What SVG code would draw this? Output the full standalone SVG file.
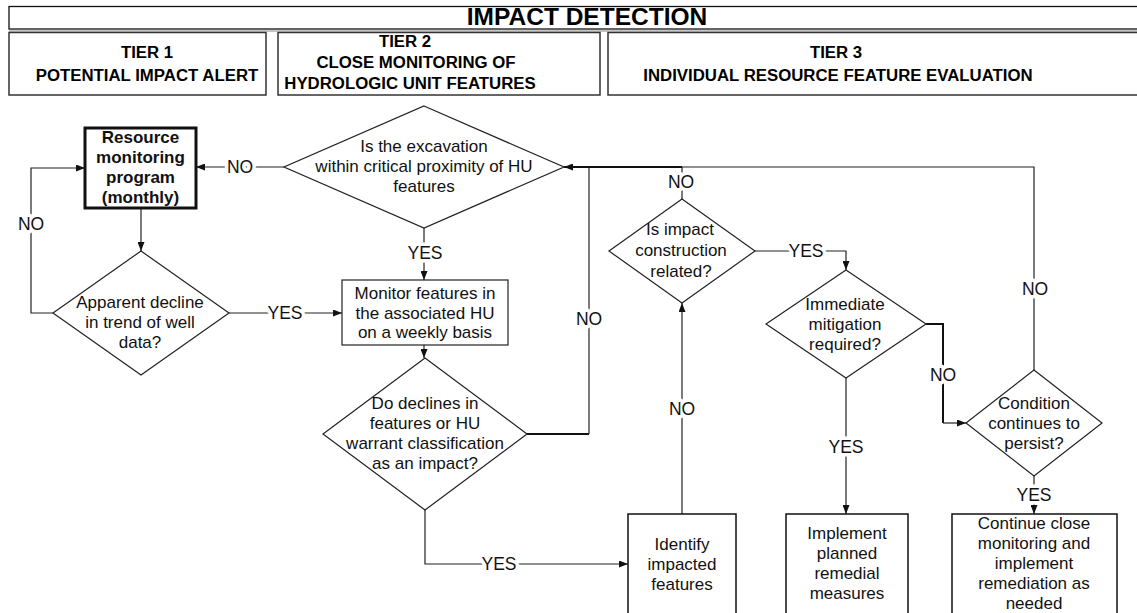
<svg xmlns="http://www.w3.org/2000/svg" width="1137" height="613" viewBox="0 0 1137 613">
<style>
.hdr{font-family:"Liberation Sans",Arial,sans-serif;font-weight:bold;fill:#000;text-anchor:middle}
.t{font-family:"Liberation Sans",Arial,sans-serif;font-size:17px;fill:#111;text-anchor:middle}
.b{font-weight:bold}
.lbl{font-family:"Liberation Sans",Arial,sans-serif;font-size:17.5px;fill:#111;text-anchor:middle;paint-order:stroke;stroke:#fff;stroke-width:7px;stroke-linejoin:round}
.shape{fill:#fff;stroke:#222;stroke-width:1.2}
.tier{fill:#fff;stroke:#333;stroke-width:1.5}
.c{fill:none;stroke:#222;stroke-width:1.2}
.ck{fill:none;stroke:#111;stroke-width:2}
</style>
<defs>
<marker id="ah" viewBox="0 0 9 7" refX="9" refY="3.5" markerWidth="9" markerHeight="7" markerUnits="userSpaceOnUse" orient="auto">
<path d="M0,0 L9,3.5 L0,7 z" fill="#111"/>
</marker>
</defs>

<g id="header">
<rect x="9" y="6.5" width="1140" height="22.5" fill="#fff" stroke="#111" stroke-width="1.3"/>
<line x1="9" y1="31" x2="1137" y2="31" stroke="#888" stroke-width="1"/>
<text class="hdr" x="587" y="25" font-size="24.5">IMPACT DETECTION</text>
</g>
<g id="tier1">
<rect class="tier" x="9" y="32.5" width="257" height="62.5"/>
<text class="hdr" x="147" y="58" font-size="16.8">TIER 1</text>
<text class="hdr" x="147" y="81" font-size="16.8">POTENTIAL IMPACT ALERT</text>
</g>
<g id="tier2">
<rect class="tier" x="278" y="32.5" width="322" height="62.5"/>
<text class="hdr" x="405" y="47" font-size="16.8">TIER 2</text>
<text class="hdr" x="416" y="68" font-size="16.8">CLOSE MONITORING OF</text>
<text class="hdr" x="410" y="89" font-size="16.8">HYDROLOGIC UNIT FEATURES</text>
</g>
<g id="tier3">
<rect class="tier" x="608" y="32.5" width="540" height="62.5"/>
<text class="hdr" x="836" y="58" font-size="16.8">TIER 3</text>
<text class="hdr" x="838" y="81" font-size="16.8">INDIVIDUAL RESOURCE FEATURE EVALUATION</text>
</g>

<g id="connectors">
<path class="c" d="M141,208 V251" marker-end="url(#ah)"/>
<path class="c" d="M53,313 H31 V168 H85" marker-end="url(#ah)"/>
<path class="c" d="M229,313 H342" marker-end="url(#ah)"/>
<path class="c" d="M284,167 H196" marker-end="url(#ah)"/>
<path class="c" d="M424,228 V280" marker-end="url(#ah)"/>
<path class="c" d="M424,345 V358" marker-end="url(#ah)"/>
<path class="ck" d="M527,434 H589"/>
<path class="c" d="M589,434 V167"/>
<path class="c" d="M1034,370 V167 H682"/>
<path class="ck" d="M682,167 H564" marker-end="url(#ah)"/>
<path class="c" d="M682,199 V167"/>
<path class="c" d="M682,514 V303" marker-end="url(#ah)"/>
<path class="c" d="M425,510 V564 H628" marker-end="url(#ah)"/>
<path class="c" d="M755,251 H846 V270" marker-end="url(#ah)"/>
<path class="c" d="M846,378 V514" marker-end="url(#ah)"/>
<path class="ck" d="M926,324 H943 V423"/>
<path class="c" d="M943,423 H966" marker-end="url(#ah)"/>
<path class="c" d="M1034,476 V514" marker-end="url(#ah)"/>
<text class="lbl" x="31" y="230">NO</text>
<text class="lbl" x="285" y="319">YES</text>
<text class="lbl" x="240" y="173">NO</text>
<text class="lbl" x="425" y="259">YES</text>
<text class="lbl" x="589" y="325">NO</text>
<text class="lbl" x="681" y="188">NO</text>
<text class="lbl" x="682" y="415">NO</text>
<text class="lbl" x="499" y="570">YES</text>
<text class="lbl" x="806" y="257">YES</text>
<text class="lbl" x="1035" y="295">NO</text>
<text class="lbl" x="943" y="381">NO</text>
<text class="lbl" x="846" y="453">YES</text>
<text class="lbl" x="1034" y="501">YES</text>
</g>

<g id="resource-monitoring">
<rect x="85" y="128" width="111" height="80" fill="#fff" stroke="#111" stroke-width="3"/>
<text class="t b" x="140.5" y="143">Resource</text>
<text class="t b" x="140.5" y="163">monitoring</text>
<text class="t b" x="140.5" y="183">program</text>
<text class="t b" x="140.5" y="203">(monthly)</text>
</g>
<g id="apparent-decline">
<polygon class="shape" points="141,251 229,313 141,375 53,313"/>
<text class="t" x="140" y="308">Apparent decline</text>
<text class="t" x="140" y="328">in trend of well</text>
<text class="t" x="140" y="348">data?</text>
</g>
<g id="excavation-proximity">
<polygon class="shape" points="424,106 564,167 424,228 284,167"/>
<text class="t" x="424" y="152">Is the excavation</text>
<text class="t" x="424" y="172">within critical proximity of HU</text>
<text class="t" x="424" y="192">features</text>
</g>
<g id="monitor-weekly">
<rect class="shape" x="342" y="280" width="166" height="65"/>
<text class="t" x="425" y="299">Monitor features in</text>
<text class="t" x="425" y="318.5">the associated HU</text>
<text class="t" x="425" y="338">on a weekly basis</text>
</g>
<g id="declines-impact">
<polygon class="shape" points="425,358 527,434 425,510 323,434"/>
<text class="t" x="425" y="409">Do declines in</text>
<text class="t" x="425" y="429">features or HU</text>
<text class="t" x="425" y="449">warrant classification</text>
<text class="t" x="425" y="469">as an impact?</text>
</g>
<g id="construction-related">
<polygon class="shape" points="682,199 755,251 682,303 609,251"/>
<text class="t" x="680" y="235">Is impact</text>
<text class="t" x="681" y="256">construction</text>
<text class="t" x="681" y="277">related?</text>
</g>
<g id="immediate-mitigation">
<polygon class="shape" points="846,270 926,324 846,378 766,324"/>
<text class="t" x="845" y="310">Immediate</text>
<text class="t" x="845" y="330">mitigation</text>
<text class="t" x="845" y="350">required?</text>
</g>
<g id="condition-persist">
<polygon class="shape" points="1034,370 1102,423 1034,476 966,423"/>
<text class="t" x="1034" y="409">Condition</text>
<text class="t" x="1034" y="429">continues to</text>
<text class="t" x="1034" y="449">persist?</text>
</g>
<g id="identify-features">
<rect x="628" y="514" width="108" height="110" fill="#fff" stroke="#111" stroke-width="1.5"/>
<text class="t" x="682" y="550">Identify</text>
<text class="t" x="682" y="570">impacted</text>
<text class="t" x="682" y="590">features</text>
</g>
<g id="implement-remedial">
<rect x="786" y="514" width="122" height="110" fill="#fff" stroke="#111" stroke-width="1.5"/>
<text class="t" x="847" y="539">Implement</text>
<text class="t" x="847" y="559">planned</text>
<text class="t" x="847" y="579">remedial</text>
<text class="t" x="847" y="599">measures</text>
</g>
<g id="continue-monitoring">
<rect x="952" y="514" width="165" height="110" fill="#fff" stroke="#111" stroke-width="1.5"/>
<text class="t" x="1034" y="529">Continue close</text>
<text class="t" x="1034" y="549">monitoring and</text>
<text class="t" x="1034" y="569">implement</text>
<text class="t" x="1034" y="589">remediation as</text>
<text class="t" x="1034" y="609">needed</text>
</g>
</svg>
